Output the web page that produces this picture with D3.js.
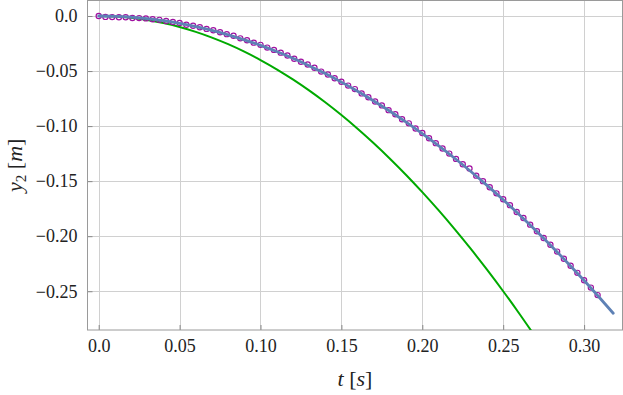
<!DOCTYPE html>
<html>
<head>
<meta charset="utf-8">
<script src="https://cdn.jsdelivr.net/npm/d3@7"></script>
</head>
<body style="margin:0">
<svg id="chart" width="623" height="395"></svg>
<script>
// ---- data ----
const xTicks = [0, 0.05, 0.10, 0.15, 0.20, 0.25, 0.30];
const xTickLabels = ["0.0", "0.05", "0.10", "0.15", "0.20", "0.25", "0.30"];
const yTicks = [0, -0.05, -0.10, -0.15, -0.20, -0.25];
const yTickLabels = ["0.0", "\u22120.05", "\u22120.10", "\u22120.15", "\u22120.20", "\u22120.25"];

// measured positions (frame index at 240 fps)
const markFrames = [0,1,2,3,4,5,6,7,8,9,10,11,12,13,14,15,16,17,18,19,20,21,22,23,24,25,26,27,28,29,30,31,32,33,34,35,36,37,38,39,40,41,42,43,44,45,46,47,48,49,50,51,52,53,54,55,56,57,58,59,60,61,62,63,64,65,66,67,68,69,70,71,72,73,74];
const markY = [0.0000,-0.0008,-0.0010,-0.0012,-0.0011,-0.0018,-0.0019,-0.0022,-0.0029,-0.0035,-0.0045,-0.0054,-0.0064,-0.0079,-0.0089,-0.0102,-0.0117,-0.0130,-0.0148,-0.0165,-0.0180,-0.0203,-0.0220,-0.0242,-0.0262,-0.0287,-0.0308,-0.0333,-0.0359,-0.0388,-0.0416,-0.0441,-0.0470,-0.0505,-0.0532,-0.0566,-0.0597,-0.0632,-0.0664,-0.0703,-0.0738,-0.0776,-0.0812,-0.0855,-0.0893,-0.0938,-0.0975,-0.1022,-0.1062,-0.1110,-0.1155,-0.1203,-0.1250,-0.1298,-0.1347,-0.1385,-0.1450,-0.1500,-0.1556,-0.1611,-0.1664,-0.1718,-0.1780,-0.1835,-0.1895,-0.1955,-0.2016,-0.2078,-0.2140,-0.2205,-0.2268,-0.2333,-0.2400,-0.2467,-0.2535];

// fitted model curve (blue)
const fitT = [0,0.01,0.02,0.03,0.04,0.05,0.06,0.07,0.08,0.09,0.10,0.11,0.12,0.13,0.14,0.15,0.16,0.17,0.18,0.19,0.20,0.21,0.22,0.23,0.24,0.25,0.26,0.27,0.28,0.29,0.30,0.31,0.318];
const fitY = [0,-0.000267,-0.001068,-0.002403,-0.004272,-0.006675,-0.009612,-0.013083,-0.017088,-0.021627,-0.0267,-0.032307,-0.038448,-0.045123,-0.052332,-0.060075,-0.068352,-0.077163,-0.086508,-0.096387,-0.1068,-0.117747,-0.129228,-0.141243,-0.153792,-0.166875,-0.180492,-0.194643,-0.209328,-0.224547,-0.2403,-0.256587,-0.2700];

// comparison curve (green)
const cmpT = [0,0.01,0.02,0.03,0.04,0.05,0.06,0.07,0.08,0.09,0.10,0.11,0.12,0.13,0.14,0.15,0.16,0.17,0.18,0.19,0.20,0.21,0.22,0.23,0.24,0.25,0.26,0.27];
const cmpY = [0,-0.0004,-0.0016,-0.0036,-0.0064,-0.0100,-0.0144,-0.0196,-0.0256,-0.0324,-0.0400,-0.0484,-0.0576,-0.0676,-0.0784,-0.0900,-0.1024,-0.1156,-0.1296,-0.1444,-0.1600,-0.1764,-0.1936,-0.2116,-0.2304,-0.2500,-0.2704,-0.2916];

const fps = 240;

// ---- layout ----
const L = 87.5, R = 622.5, T = 0.5, B = 330;
const svg = d3.select("#chart");
const x = d3.scaleLinear().domain([-0.00692, 0.32373]).range([L, R]);
const y = d3.scaleLinear().domain([-0.2852, 0.01408]).range([B, T]);

svg.append("defs").append("clipPath").attr("id", "clip")
  .append("rect").attr("x", L).attr("y", T).attr("width", R - L).attr("height", B - T);

// grid
const grid = svg.append("g").attr("stroke", "#d0d0d0").attr("stroke-width", 1);
grid.selectAll("line.vx").data(xTicks).enter().append("line")
  .attr("x1", d => Math.round(x(d)) + 0.5).attr("x2", d => Math.round(x(d)) + 0.5)
  .attr("y1", T).attr("y2", B);
grid.selectAll("line.hy").data(yTicks).enter().append("line")
  .attr("y1", d => Math.round(y(d)) + 0.5).attr("y2", d => Math.round(y(d)) + 0.5)
  .attr("x1", L).attr("x2", R);

// axes (inward ticks)
const xAxis = d3.axisBottom(x).tickValues(xTicks).tickFormat((d, i) => xTickLabels[i])
  .tickSizeInner(-5).tickSizeOuter(0).tickPadding(9);
const gx = svg.append("g").attr("transform", `translate(0,${B})`).call(xAxis);
const yAxis = d3.axisLeft(y).tickValues(yTicks).tickFormat((d, i) => yTickLabels[i])
  .tickSizeInner(-5).tickSizeOuter(0).tickPadding(10);
const gy = svg.append("g").attr("transform", `translate(${L},0)`).call(yAxis);
[gx, gy].forEach(g => {
  g.attr("font-family", "Times New Roman").attr("font-size", 18);
  g.select(".domain").remove();
  g.selectAll(".tick line").attr("stroke", "#888");
  g.selectAll(".tick text").attr("fill", "#222").attr("font-family", "Times New Roman");
});

// frame
svg.append("rect").attr("x", L).attr("y", T).attr("width", R - L).attr("height", B - T)
  .attr("fill", "none").attr("stroke", "#9a9a9a").attr("stroke-width", 1);

const plot = svg.append("g").attr("clip-path", "url(#clip)");

// green curve
plot.append("path")
  .datum(cmpT.map((t, i) => [t, cmpY[i]]))
  .attr("fill", "none").attr("stroke", "#00aa00").attr("stroke-width", 2)
  .attr("d", d3.line().x(d => x(d[0])).y(d => y(d[1])).curve(d3.curveMonotoneX));

// markers
plot.selectAll("circle.m").data(markFrames).enter().append("circle")
  .attr("cx", d => x(d / fps)).attr("cy", (d, i) => y(markY[i])).attr("r", 2.6)
  .attr("fill", "none").attr("stroke", "#a010a0").attr("stroke-width", 1.2);

// blue fit
plot.append("path")
  .datum(fitT.map((t, i) => [t, fitY[i]]))
  .attr("fill", "none").attr("stroke", "#5e81b5").attr("stroke-width", 2.8)
  .attr("stroke-linecap", "round")
  .attr("d", d3.line().x(d => x(d[0])).y(d => y(d[1])).curve(d3.curveMonotoneX));

// axis titles
const xt = svg.append("text").attr("x", (L + R) / 2).attr("y", 386)
  .attr("text-anchor", "middle").attr("font-family", "Times New Roman")
  .attr("font-size", 22).attr("fill", "#222");
xt.append("tspan").attr("font-style", "italic").text("t");
xt.append("tspan").text(" [");
xt.append("tspan").attr("font-style", "italic").text("s");
xt.append("tspan").text("]");

const yt = svg.append("text").attr("transform", `translate(22,${(T + B) / 2}) rotate(-90)`)
  .attr("text-anchor", "middle").attr("font-family", "Times New Roman")
  .attr("font-size", 22).attr("fill", "#222");
yt.append("tspan").attr("font-style", "italic").text("y");
yt.append("tspan").attr("dy", 4).attr("font-size", 15).text("2");
yt.append("tspan").attr("dy", -4).text(" [");
yt.append("tspan").attr("font-style", "italic").text("m");
yt.append("tspan").text("]");
</script>
</body>
</html>
